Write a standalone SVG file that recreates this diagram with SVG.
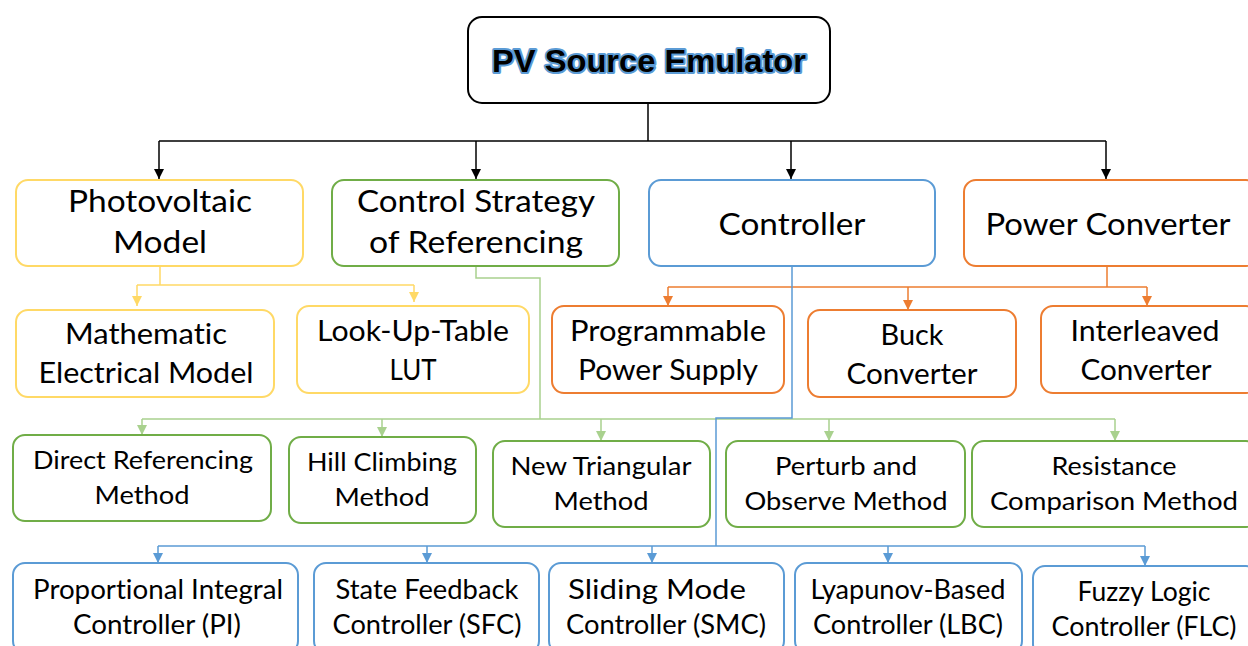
<svg xmlns="http://www.w3.org/2000/svg" width="1248" height="646" viewBox="0 0 1248 646">
<defs>
<style>
.box{fill:#fff;stroke-width:2}
.y{stroke:#ffd966}.g{stroke:#70ad47}.b{stroke:#5b9bd5}.o{stroke:#ed7d31}.k{stroke:#000}
.t{font-family:Lato,"Open Sans",sans-serif;fill:#000;text-anchor:middle;font-variant-ligatures:none}
.l1{font-size:30px}.l2{font-size:28px}.l3{font-size:25px}.l4{font-size:26px}
.c{fill:none;stroke-width:1.5}
</style>
<marker id="ak" viewBox="0 0 10 10" refX="10" refY="5" markerWidth="10" markerHeight="10" markerUnits="userSpaceOnUse" orient="auto"><path d="M0,0L10,5L0,10z" fill="#000"/></marker>
<marker id="ay" viewBox="0 0 10 10" refX="10" refY="5" markerWidth="10" markerHeight="10" markerUnits="userSpaceOnUse" orient="auto"><path d="M0,0L10,5L0,10z" fill="#ffd966"/></marker>
<marker id="ag" viewBox="0 0 10 10" refX="10" refY="5" markerWidth="10" markerHeight="10" markerUnits="userSpaceOnUse" orient="auto"><path d="M0,0L10,5L0,10z" fill="#a9d18e"/></marker>
<marker id="ab" viewBox="0 0 10 10" refX="10" refY="5" markerWidth="10" markerHeight="10" markerUnits="userSpaceOnUse" orient="auto"><path d="M0,0L10,5L0,10z" fill="#5b9bd5"/></marker>
<marker id="ao" viewBox="0 0 10 10" refX="10" refY="5" markerWidth="10" markerHeight="10" markerUnits="userSpaceOnUse" orient="auto"><path d="M0,0L10,5L0,10z" fill="#ed7d31"/></marker>
</defs>
<rect width="1248" height="646" fill="#fff"/>
<g id="connectors">
<path class="c" stroke="#000" d="M648,103V141M159,141H1106"/>
<path class="c" stroke="#000" marker-end="url(#ak)" d="M159,141V179"/>
<path class="c" stroke="#000" marker-end="url(#ak)" d="M476,141V179"/>
<path class="c" stroke="#000" marker-end="url(#ak)" d="M791,141V179"/>
<path class="c" stroke="#000" marker-end="url(#ak)" d="M1106,141V179"/>
<path class="c" stroke="#ffd966" d="M160,266V285M137,285H414"/>
<path class="c" stroke="#ffd966" marker-end="url(#ay)" d="M137,285V306"/>
<path class="c" stroke="#ffd966" marker-end="url(#ay)" d="M414,285V302"/>
<path class="c" stroke="#ed7d31" d="M1107,267V287M668,287H1147"/>
<path class="c" stroke="#ed7d31" marker-end="url(#ao)" d="M668,287V306"/>
<path class="c" stroke="#ed7d31" marker-end="url(#ao)" d="M908,287V310"/>
<path class="c" stroke="#ed7d31" marker-end="url(#ao)" d="M1147,287V306"/>
<path class="c" stroke="#a9d18e" d="M476,266V278H540V419M142,419H1115"/>
<path class="c" stroke="#a9d18e" marker-end="url(#ag)" d="M142,419V435"/>
<path class="c" stroke="#a9d18e" marker-end="url(#ag)" d="M382,419V437"/>
<path class="c" stroke="#a9d18e" marker-end="url(#ag)" d="M601,419V441"/>
<path class="c" stroke="#a9d18e" marker-end="url(#ag)" d="M829,419V441"/>
<path class="c" stroke="#a9d18e" marker-end="url(#ag)" d="M1115,419V441"/>
<path class="c" stroke="#5b9bd5" d="M792,267V418H716V546M158,546H1145"/>
<path class="c" stroke="#5b9bd5" marker-end="url(#ab)" d="M158,546V563"/>
<path class="c" stroke="#5b9bd5" marker-end="url(#ab)" d="M427,546V563"/>
<path class="c" stroke="#5b9bd5" marker-end="url(#ab)" d="M652,546V563"/>
<path class="c" stroke="#5b9bd5" marker-end="url(#ab)" d="M888,546V563"/>
<path class="c" stroke="#5b9bd5" marker-end="url(#ab)" d="M1145,546V566"/>
</g>
<g id="root">
<rect class="box k" x="468" y="17" width="362" height="86" rx="14"/>
<text x="649" y="72" textLength="314" lengthAdjust="spacingAndGlyphs" style="font-family:'Liberation Sans',Arial,sans-serif;font-weight:bold;font-size:32px;text-anchor:middle;fill:#000;stroke:#5b9bd5;stroke-width:4;paint-order:stroke;stroke-linejoin:round">PV Source Emulator</text>
</g>
<g id="pv-model">
<rect class="box y" x="16" y="180" width="287" height="86" rx="12"/>
<text class="t l1" x="160" y="212" textLength="184" lengthAdjust="spacingAndGlyphs">Photovoltaic</text><text class="t l1" x="160" y="253" textLength="94" lengthAdjust="spacingAndGlyphs">Model</text>
</g>
<g id="control-strategy">
<rect class="box g" x="332" y="180" width="287" height="86" rx="12"/>
<text class="t l1" x="476" y="212" textLength="238" lengthAdjust="spacingAndGlyphs">Control Strategy</text><text class="t l1" x="476" y="253" textLength="214" lengthAdjust="spacingAndGlyphs">of Referencing</text>
</g>
<g id="controller">
<rect class="box b" x="649" y="180" width="286" height="86" rx="12"/>
<text class="t l1" x="792" y="235" textLength="147" lengthAdjust="spacingAndGlyphs">Controller</text>
</g>
<g id="power-converter">
<rect class="box o" x="964" y="180" width="294" height="86" rx="12"/>
<text class="t l1" x="1108" y="235" textLength="245" lengthAdjust="spacingAndGlyphs">Power Converter</text>
</g>
<g id="math-model">
<rect class="box y" x="16" y="310" width="258" height="87" rx="12"/>
<text class="t l2" x="146" y="344" textLength="162" lengthAdjust="spacingAndGlyphs">Mathematic</text><text class="t l2" x="146" y="383" textLength="215" lengthAdjust="spacingAndGlyphs">Electrical Model</text>
</g>
<g id="lut">
<rect class="box y" x="297" y="306" width="232" height="87" rx="12"/>
<text class="t l2" x="413" y="341" textLength="192" lengthAdjust="spacingAndGlyphs">Look-Up-Table</text><text class="t l2" x="413" y="380" textLength="47" lengthAdjust="spacingAndGlyphs">LUT</text>
</g>
<g id="programmable">
<rect class="box o" x="552" y="306" width="232" height="87" rx="12"/>
<text class="t l2" x="668" y="341" textLength="196" lengthAdjust="spacingAndGlyphs">Programmable</text><text class="t l2" x="668" y="380" textLength="180" lengthAdjust="spacingAndGlyphs">Power Supply</text>
</g>
<g id="buck">
<rect class="box o" x="808" y="310" width="208" height="87" rx="12"/>
<text class="t l2" x="912" y="345" textLength="63" lengthAdjust="spacingAndGlyphs">Buck</text><text class="t l2" x="912" y="384" textLength="131" lengthAdjust="spacingAndGlyphs">Converter</text>
</g>
<g id="interleaved">
<rect class="box o" x="1041" y="306" width="217" height="87" rx="12"/>
<text class="t l2" x="1145" y="341" textLength="149" lengthAdjust="spacingAndGlyphs">Interleaved</text><text class="t l2" x="1146" y="380" textLength="131" lengthAdjust="spacingAndGlyphs">Converter</text>
</g>
<g id="direct-ref">
<rect class="box g" x="13" y="435" width="258" height="86" rx="12"/>
<text class="t l3" x="143" y="469" textLength="220" lengthAdjust="spacingAndGlyphs">Direct Referencing</text><text class="t l3" x="142" y="504" textLength="95" lengthAdjust="spacingAndGlyphs">Method</text>
</g>
<g id="hill-climbing">
<rect class="box g" x="289" y="437" width="187" height="86" rx="12"/>
<text class="t l3" x="382" y="471" textLength="150" lengthAdjust="spacingAndGlyphs">Hill Climbing</text><text class="t l3" x="382" y="506" textLength="95" lengthAdjust="spacingAndGlyphs">Method</text>
</g>
<g id="new-triangular">
<rect class="box g" x="493" y="441" width="217" height="86" rx="12"/>
<text class="t l3" x="601" y="475" textLength="181" lengthAdjust="spacingAndGlyphs">New Triangular</text><text class="t l3" x="601" y="510" textLength="95" lengthAdjust="spacingAndGlyphs">Method</text>
</g>
<g id="perturb-observe">
<rect class="box g" x="726" y="441" width="239" height="86" rx="12"/>
<text class="t l3" x="846" y="475" textLength="142" lengthAdjust="spacingAndGlyphs">Perturb and</text><text class="t l3" x="846" y="510" textLength="203" lengthAdjust="spacingAndGlyphs">Observe Method</text>
</g>
<g id="resistance-comparison">
<rect class="box g" x="972" y="441" width="286" height="86" rx="12"/>
<text class="t l3" x="1114" y="475" textLength="125" lengthAdjust="spacingAndGlyphs">Resistance</text><text class="t l3" x="1114" y="510" textLength="248" lengthAdjust="spacingAndGlyphs">Comparison Method</text>
</g>
<g id="pi">
<rect class="box b" x="13" y="563" width="285" height="90" rx="12"/>
<text class="t l4" x="158" y="599" textLength="250" lengthAdjust="spacingAndGlyphs">Proportional Integral</text><text class="t l4" x="157" y="634" textLength="168" lengthAdjust="spacingAndGlyphs">Controller (PI)</text>
</g>
<g id="sfc">
<rect class="box b" x="314" y="563" width="225" height="90" rx="12"/>
<text class="t l4" x="427" y="599" textLength="183" lengthAdjust="spacingAndGlyphs">State Feedback</text><text class="t l4" x="427" y="634" textLength="189" lengthAdjust="spacingAndGlyphs">Controller (SFC)</text>
</g>
<g id="smc">
<rect class="box b" x="549" y="563" width="235" height="90" rx="12"/>
<text class="t l4" x="657" y="599" textLength="178" lengthAdjust="spacingAndGlyphs">Sliding Mode</text><text class="t l4" x="666" y="634" textLength="200" lengthAdjust="spacingAndGlyphs">Controller (SMC)</text>
</g>
<g id="lbc">
<rect class="box b" x="795" y="563" width="227" height="90" rx="12"/>
<text class="t l4" x="908" y="599" textLength="195" lengthAdjust="spacingAndGlyphs">Lyapunov-Based</text><text class="t l4" x="908" y="634" textLength="190" lengthAdjust="spacingAndGlyphs">Controller (LBC)</text>
</g>
<g id="flc">
<rect class="box b" x="1033" y="566" width="225" height="90" rx="12"/>
<text class="t l4" x="1144" y="601" textLength="133" lengthAdjust="spacingAndGlyphs">Fuzzy Logic</text><text class="t l4" x="1144" y="636" textLength="185" lengthAdjust="spacingAndGlyphs">Controller (FLC)</text>
</g>
</svg>
